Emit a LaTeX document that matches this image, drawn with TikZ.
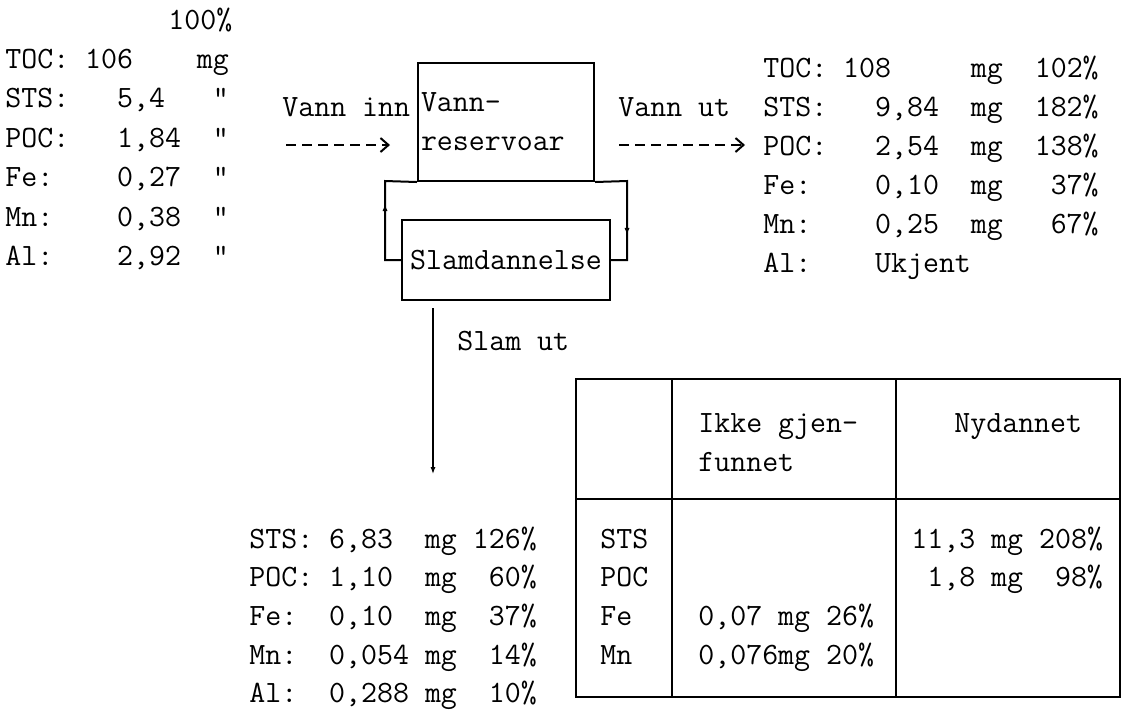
\documentclass[tikz,border=0pt]{standalone}
\usetikzlibrary{arrows.meta,decorations.markings,calc}
\newcommand{\tw}{\fontsize{15.5pt}{19.5pt}\selectfont\ttfamily}
\begin{document}
\begin{tikzpicture}[x=0.5pt,y=-0.5pt,
  txt/.style={inner sep=0pt, anchor=base west, font=\tw},
  ln/.style={line width=1pt},
  boxnode/.style={draw, line width=1pt, font=\tw},
  tip/.style={-{Latex[length=3.5pt,width=2.6pt]}},
  midup/.style={postaction={decorate}, decoration={markings,
      mark=at position #1 with {\arrow{Latex[length=3.5pt,width=2.6pt]}}}},
  dasharrow/.style={line width=1pt, dash pattern=on 5pt off 3pt,
      -{Straight Barb[length=4pt,width=7pt,line width=1pt]}}
]
\useasboundingbox (0,0) rectangle (1122,709);

% ---------- left block (input) ----------
\node[txt] (L0) at (168,29) {100\%};
\foreach \t [count=\i] in {{TOC:~106~~~~mg},{STS:~~~5,4~~~"},{POC:~~~1,84~~"},
    {Fe:~~~~0,27~~"},{Mn:~~~~0,38~~"},{Al:~~~~2,92~~"}}
  \node[txt] (L\i) at (5,{29+39.4*\i}) {\t};

% ---------- boxes ----------
\node[boxnode, minimum width=88pt, minimum height=59pt, inner xsep=1.5pt,
      text width=85pt, align=left] (vres) at (506,122) {Vann-\\reservoar};
\node[boxnode, minimum width=104pt, minimum height=40pt, inner sep=0pt] (slam) at (506,260) {Slamdannelse};

% ---------- water in / out ----------
\node[txt] (vinn) at (282,116) {Vann inn};
\node[txt] (vut) at (618,116) {Vann ut};

% ---------- right block (output water) ----------
\foreach \t [count=\i from 0] in {{TOC:~108~~~~~mg~~102\%},{STS:~~~9,84~~mg~~182\%},
    {POC:~~~2,54~~mg~~138\%},{Fe:~~~~0,10~~mg~~~37\%},{Mn:~~~~0,25~~mg~~~67\%},
    {Al:~~~~Ukjent}}
  \node[txt] (R\i) at (763,{77+39*\i}) {\t};

\coordinate (inA) at (286,145);
\draw[dasharrow, shorten >=13.5pt] (inA) -- (inA -| vres.west);
\draw[dasharrow, shorten <=12pt, shorten >=9pt] (vres.east |- inA) -- (R2.west |- inA);

% ---------- internal loop ----------
\coordinate (lc) at (385,181);
\coordinate (rc) at (627,181);
\draw[ln, midup=36pt] (slam.west) -| (lc) -- (vres.south west);
\draw[ln, midup=43pt] (vres.south east) -- (rc) |- (slam.east);

% ---------- sludge out ----------
\coordinate (sA) at (433,308);
\coordinate (sB) at (433,474);
\draw[ln, tip] (sA) -- (sB);
\node[txt] (slamut) at (457,350) {Slam ut};

\foreach \t [count=\i from 0] in {{STS:~6,83~~mg~126\%},{POC:~1,10~~mg~~60\%},
    {Fe:~~0,10~~mg~~37\%},{Mn:~~0,054~mg~~14\%},{Al:~~0,288~mg~~10\%}}
  \node[txt] (B\i) at (249,{548+38.7*\i}) {\t};

% ---------- table ----------
\coordinate (T1) at (576,379);
\coordinate (T2) at (1120,697);
\draw[ln] (T1) rectangle (T2);
\draw[ln] (672,379) -- (672,697);
\draw[ln] (896,379) -- (896,697);
\draw[ln] (576,499) -- (1120,499);

\node[txt] (h1) at (698,432) {Ikke gjen-};
\node[txt] (h2) at (698,471) {funnet};
\node[txt] (h3) at (954,432) {Nydannet};

\foreach \t [count=\i from 0] in {STS,POC,Fe,Mn}
  \node[txt] (C\i) at (600,{548+38.7*\i}) {\t};
\node[txt] (ig1) at (698,{548+38.7*2}) {0,07~mg~26\%};
\node[txt] (ig2) at (698,{548+38.7*3}) {0,076mg~20\%};
\node[txt] (ny1) at (911,548) {11,3~mg~208\%};
\node[txt] (ny2) at (911,{548+38.7}) {~1,8~mg~~98\%};
\end{tikzpicture}
\end{document}
